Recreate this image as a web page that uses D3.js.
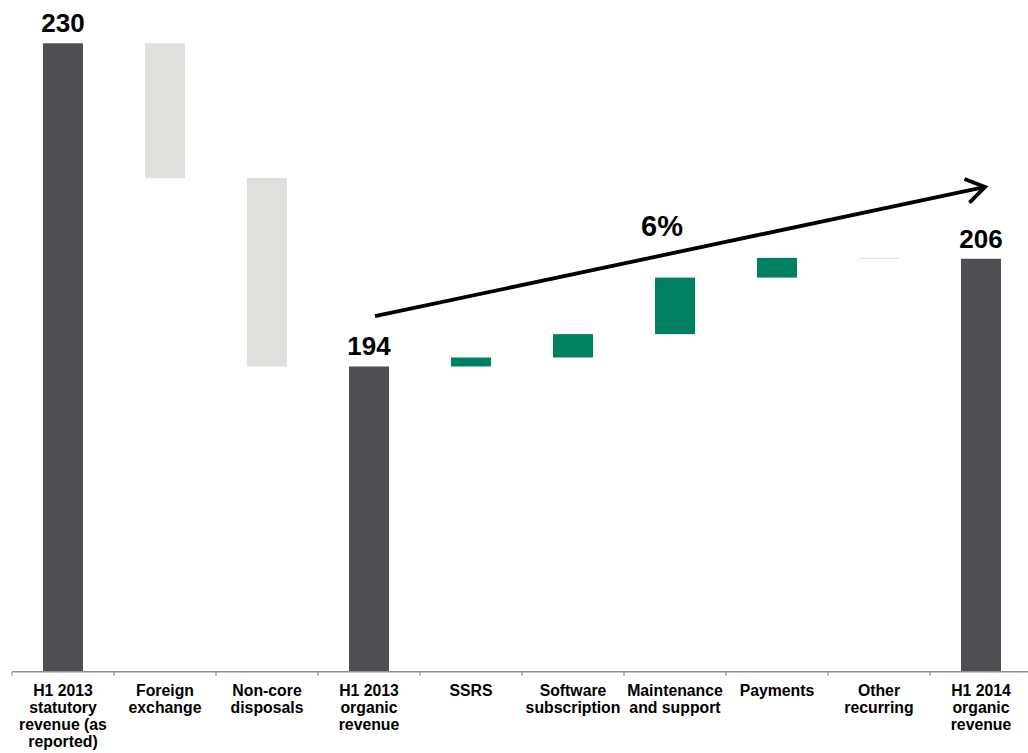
<!DOCTYPE html>
<html>
<head>
<meta charset="utf-8">
<script src="https://cdn.jsdelivr.net/npm/d3@7"></script>
<style>
  html, body { margin: 0; padding: 0; background: #fff; }
  svg { display: block; font-family: "Liberation Sans", Arial, sans-serif; }
</style>
</head>
<body>
<svg id="chart" width="1028" height="753"></svg>
<script>
// Revenue bridge: H1 2013 statutory revenue to H1 2014 organic revenue
const categories = [
  "H1 2013 statutory revenue (as reported)",
  "Foreign exchange",
  "Non-core disposals",
  "H1 2013 organic revenue",
  "SSRS",
  "Software subscription",
  "Maintenance and support",
  "Payments",
  "Other recurring",
  "H1 2014 organic revenue"
];
const labelLines = [
  ["H1 2013", "statutory", "revenue (as", "reported)"],
  ["Foreign", "exchange"],
  ["Non-core", "disposals"],
  ["H1 2013", "organic", "revenue"],
  ["SSRS"],
  ["Software", "subscription"],
  ["Maintenance", "and support"],
  ["Payments"],
  ["Other", "recurring"],
  ["H1 2014", "organic", "revenue"]
];
// "total" = absolute bar from the axis; "delta" = floating step
const kinds  = ["total", "delta", "delta", "total", "delta", "delta", "delta", "delta", "delta", "total"];
const values = [230, -15, -21, 194, 1.0, 2.6, 6.3, 2.2, -0.1, 206];
const growthLabel = "6%";
const yDomain = [160, 230];

const width = 1028, height = 753;
const svg = d3.select("#chart");

const x = d3.scaleBand()
  .domain(categories)
  .range([12, 1032])
  .paddingInner(0.608)
  .paddingOuter(0.304);

const y = d3.scaleLinear().domain(yDomain).range([671.7, 43.3]);

// running totals for the floating steps
let running = 0;
const bars = categories.map((c, i) => {
  let lo, hi;
  if (kinds[i] === "total") {
    lo = yDomain[0]; hi = values[i]; running = values[i];
  } else {
    const start = running, end = running + values[i];
    lo = Math.min(start, end); hi = Math.max(start, end);
    running = end;
  }
  return { cat: c, kind: kinds[i], value: values[i], lo, hi };
});

const colorFor = d => d.kind === "total" ? "#4e4f53" : (d.value < 0 ? "#dfe0dc" : "#008062");

svg.append("g")
  .selectAll("rect")
  .data(bars)
  .join("rect")
  .attr("x", d => x(d.cat))
  .attr("width", x.bandwidth())
  .attr("y", d => y(d.hi))
  .attr("height", d => Math.max(1.2, y(d.lo) - y(d.hi)))
  .attr("fill", colorFor);

// value labels over the totals
svg.append("g")
  .selectAll("text")
  .data(bars.filter(d => d.kind === "total"))
  .join("text")
  .attr("x", d => x(d.cat) + x.bandwidth() / 2)
  .attr("y", d => y(d.hi) - 11)
  .attr("text-anchor", "middle")
  .attr("font-size", 26)
  .attr("font-weight", "bold")
  .attr("fill", "#000")
  .text(d => d3.format(".0f")(d.value));

// category axis
const axisY = y(yDomain[0]);
const step = x.step();
const gap = step - x.bandwidth();
const axis = svg.append("g").attr("stroke", "#8f8f8f");
axis.append("line")
  .attr("x1", x.range()[0]).attr("x2", width)
  .attr("y1", axisY).attr("y2", axisY)
  .attr("stroke-width", 1.5);
const boundaries = categories.map(c => x(c) - gap / 2);
axis.selectAll("line.tick")
  .data(boundaries)
  .join("line")
  .attr("class", "tick")
  .attr("x1", d => d).attr("x2", d => d)
  .attr("y1", axisY).attr("y2", axisY + 4)
  .attr("stroke-width", 1.2);

const catText = svg.append("g")
  .selectAll("text")
  .data(categories)
  .join("text")
  .attr("x", d => x(d) + x.bandwidth() / 2)
  .attr("y", 695.7)
  .attr("text-anchor", "middle")
  .attr("font-size", 15.8)
  .attr("font-weight", "bold")
  .attr("fill", "#000");
catText.each(function(d, i) {
  d3.select(this).selectAll("tspan")
    .data(labelLines[i])
    .join("tspan")
    .attr("x", x(d) + x.bandwidth() / 2)
    .attr("dy", (t, j) => j === 0 ? 0 : 17.2)
    .text(t => t);
});

// growth arrow from H1 2013 organic to H1 2014 organic
const a0 = [x(categories[3]) + x.bandwidth() / 2 + 6, y(199.6)];
const a1 = [x(categories[9]) + x.bandwidth() / 2 + 4, y(214.0)];
const ang = Math.atan2(a1[1] - a0[1], a1[0] - a0[0]);
const headLen = 22, headAng = 0.58;
const arrow = svg.append("g")
  .attr("stroke", "#000")
  .attr("stroke-width", 3.8)
  .attr("fill", "none")
  .attr("stroke-linecap", "butt");
arrow.append("line")
  .attr("x1", a0[0]).attr("y1", a0[1])
  .attr("x2", a1[0] - 2 * Math.cos(ang)).attr("y2", a1[1] - 2 * Math.sin(ang));
arrow.append("path")
  .attr("stroke-linejoin", "miter")
  .attr("d", d3.line()([
    [a1[0] - headLen * Math.cos(ang - headAng), a1[1] - headLen * Math.sin(ang - headAng)],
    a1,
    [a1[0] - headLen * Math.cos(ang + headAng), a1[1] - headLen * Math.sin(ang + headAng)]
  ]));

svg.append("text")
  .attr("x", (a0[0] + a1[0]) / 2 - 18)
  .attr("y", (a0[1] + a1[1]) / 2 - 16)
  .attr("text-anchor", "middle")
  .attr("font-size", 29)
  .attr("font-weight", "bold")
  .attr("fill", "#000")
  .text(growthLabel);
</script>
</body>
</html>
